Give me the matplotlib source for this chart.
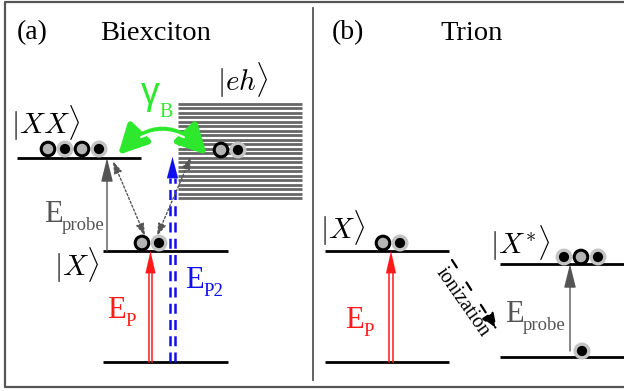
import numpy as np
import matplotlib.pyplot as plt
from matplotlib.patches import Circle, FancyArrowPatch

plt.rcParams['mathtext.fontset'] = 'cm'
SERIF = 'Liberation Serif'

# energy levels: (x_start, x_end, y) in pixel units of the canvas
levels_a = [(17, 141, 158), (103, 228, 251), (103, 228, 362)]
levels_b = [(325, 449, 251), (325, 449, 362), (500, 624, 264), (500, 624, 357)]

# continuum band |eh>
band_x = (178, 302)
band_y = (104, 198)
band_lines = 22

# carriers: (x, y, kind)  h = hole, e = electron
carriers = [
    (48, 149, 'h'), (65, 149, 'e'), (82, 149, 'h'), (99, 149, 'e'),
    (221, 150, 'h'), (238, 150, 'e'),
    (142, 243, 'h'), (159, 243, 'e'),
    (383, 243, 'h'), (400, 243, 'e'),
    (564, 257, 'e'), (581, 257, 'h'), (598, 257, 'e'),
    (582, 351, 'e'),
]

GRAY = '#555555'
RED = '#ff1a1a'
BLUE = '#1010ee'
GREEN = '#2ee82e'

fig = plt.figure(figsize=(6.24, 3.91), dpi=100)
ax = fig.add_axes([0, 0, 1, 1])
ax.set_xlim(0, 624)
ax.set_ylim(391, 0)
ax.axis('off')

# frame and divider
ax.plot([624, 5, 5, 624], [2, 2, 387, 387], color=GRAY, lw=1.6, solid_capstyle='butt')
ax.plot([313, 313], [8, 380], color=GRAY, lw=1.3)

for x0, x1, y in levels_a + levels_b:
    ax.plot([x0, x1], [y, y], color='black', lw=2.0, solid_capstyle='butt')

ax.hlines(np.linspace(band_y[0], band_y[1], band_lines), band_x[0], band_x[1],
          color='#666666', lw=2.0)


def arrow(x0, y0, x1, y1, color, lw=1.0, ls='-', style='-|>', hl=1.4, hw=0.36,
          rad=0.0, z=3):
    a = FancyArrowPatch((x0, y0), (x1, y1),
                        arrowstyle=f'{style},head_length={hl},head_width={hw}',
                        connectionstyle=f'arc3,rad={rad}',
                        color=color, lw=lw, linestyle=ls, mutation_scale=10,
                        shrinkA=0, shrinkB=0, zorder=z)
    ax.add_patch(a)


def double_arrow(x, y0, y1, color, ls='-', gap=3.5, lw=1.1, head=22, hw=0.36):
    for dx in (-gap / 2, gap / 2):
        ax.plot([x + dx, x + dx], [y0, y1 + head], color=color, lw=lw, ls=ls,
                zorder=3)
    arrow(x, y1 + head, x, y1, color, lw=0.1, hl=head / 13.9, hw=hw)


# pump arrows
double_arrow(150.5, 362, 251, RED)
double_arrow(391, 362, 251, RED)
double_arrow(172.5, 362, 157, BLUE, ls=(0, (4, 2.5)), gap=5, lw=1.8, head=21,
             hw=0.4)

# probe arrows
arrow(107, 251, 107, 158, GRAY, lw=1.0, hl=1.45, hw=0.36)
arrow(570, 351, 570, 264, GRAY, lw=1.0, hl=1.45, hw=0.36)

# dotted relaxation paths
arrow(113, 161, 145, 236, GRAY, lw=1.0, ls=(0, (1.5, 1.5)), style='<|-|>',
      hl=0.75, hw=0.25)
arrow(191, 157, 157, 236, GRAY, lw=1.0, ls=(0, (1.5, 1.5)), style='<|-|>',
      hl=0.75, hw=0.25)

# ionization path
arrow(452, 260, 497, 330, 'black', lw=1.6, ls=(0, (4, 8)), hl=1.0, hw=0.4)

# gamma_B exchange arrow: green band with a white core
arrow(118, 155, 207, 155, GREEN, lw=4.2, style='<|-|>', hl=1.75, hw=0.9,
      rad=-0.52, z=4)
inner = FancyArrowPatch((118, 155), (207, 155), connectionstyle='arc3,rad=-0.52',
                        arrowstyle='-', color='white', lw=1.6, shrinkA=21,
                        shrinkB=21, zorder=5)
ax.add_patch(inner)

for x, y, kind in carriers:
    if kind == 'h':
        c = Circle((x, y), 6.8, facecolor='#b4b4b4', edgecolor='black', lw=2.2)
    else:
        c = Circle((x, y), 6.8, facecolor='black', edgecolor='#c4c4c4', lw=2.4)
    c.set_zorder(6)
    ax.add_patch(c)

# titles
ax.text(17, 33, '(a)', family=SERIF, fontsize=20, va='center')
ax.text(100, 33, 'Biexciton', family=SERIF, fontsize=20.5, va='center')
ax.text(332, 33, '(b)', family=SERIF, fontsize=20, va='center')
ax.text(440, 33, 'Trion', family=SERIF, fontsize=20.5, va='center')

# state labels
ax.text(11, 123, r'$|XX\rangle$', fontsize=21, va='center')
ax.text(217, 80, r'$|eh\rangle$', fontsize=21, va='center')
ax.text(54, 265, r'$|X\rangle$', fontsize=21, va='center')
ax.text(320, 228, r'$|X\rangle$', fontsize=21, va='center')
ax.text(490, 243, r'$|X^{*}\rangle$', fontsize=21, va='center')


def energy(x, y, sub, color, size=22, subsize=13.5):
    ax.text(x, y, 'E', family=SERIF, fontsize=size, color=color,
            va='baseline')
    ax.text(x + 18, y + 8, sub, family=SERIF, fontsize=subsize, color=color,
            va='baseline')


energy(44, 222, 'probe', GRAY)
energy(505, 322, 'probe', GRAY)
energy(107, 318, 'P', RED)
energy(345, 328, 'P', RED)
energy(185, 288, 'P2', BLUE)

ax.text(141, 104, 'γ', family='Liberation Sans', fontsize=27,
        color=GREEN, va='baseline')
ax.text(159, 117, 'B', family=SERIF, fontsize=14.5, color=GREEN,
        va='baseline')

ax.text(462, 302, 'ionization', family=SERIF, fontsize=14.5,
        rotation=-55, rotation_mode='anchor', ha='center', va='center')

fig.savefig('out.png', dpi=100)
